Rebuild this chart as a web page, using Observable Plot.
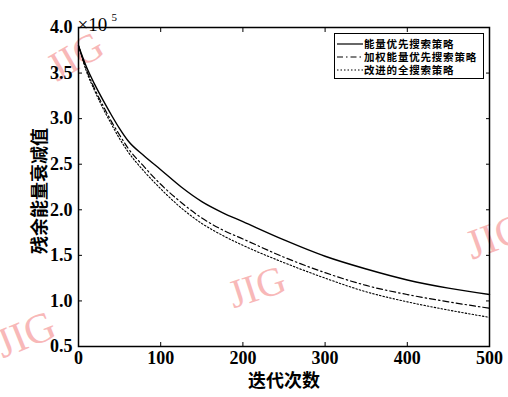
<!DOCTYPE html>
<html>
<head>
<meta charset="utf-8">
<script src="https://cdn.jsdelivr.net/npm/d3@7"></script>
<script src="https://cdn.jsdelivr.net/npm/@observablehq/plot@0.6"></script>
<style>
  html, body { margin: 0; padding: 0; background: #fff; }
  #wrap { position: relative; width: 508px; height: 397px; overflow: hidden; }
  #legend { position: absolute; left: 334px; top: 33px; width: 150px; height: 46px;
    border: 1px solid #000; background: #fff; box-sizing: border-box; padding-top: 3px;
    font-family: "Noto Sans CJK SC", sans-serif; font-weight: 700; font-size: 10.5px; letter-spacing: 0.8px; line-height: 13px; }
  .row { display: flex; align-items: center; height: 13px; margin-left: 2px; white-space: nowrap; }
  .row svg { flex: none; margin-right: 1px; }
</style>
</head>
<body>
<div id="wrap"></div>
<script>
// iterations
const xs = [0, 10, 20, 30, 40, 50, 60, 80, 100, 125, 150, 175, 200, 250, 300, 350, 400, 450, 500];
// residual energy (×10^5)
const energyFirst    = [3.80, 3.56, 3.37, 3.20, 3.04, 2.89, 2.76, 2.59, 2.44, 2.25, 2.09, 1.97, 1.87, 1.67, 1.49, 1.35, 1.23, 1.14, 1.07];
const weightedEnergy = [3.80, 3.53, 3.32, 3.14, 2.97, 2.82, 2.68, 2.47, 2.28, 2.08, 1.91, 1.78, 1.68, 1.48, 1.31, 1.17, 1.07, 0.99, 0.92];
const improvedFull   = [3.80, 3.51, 3.30, 3.11, 2.94, 2.78, 2.64, 2.42, 2.23, 2.02, 1.85, 1.72, 1.61, 1.42, 1.25, 1.10, 0.99, 0.90, 0.82];
const seriesNames = ["能量优先搜索策略", "加权能量优先搜索策略", "改进的全搜索策略"];
const xTicks = [0, 100, 200, 300, 400, 500];
const yTicks = [0.5, 1.0, 1.5, 2.0, 2.5, 3.0, 3.5, 4.0];
const xLabel = "迭代次数";
const yLabel = "残余能量衰减值";

const mk = arr => xs.map((x, i) => ({x, y: arr[i]}));
const d1 = mk(energyFirst), d2 = mk(weightedEnergy), d3s = mk(improvedFull);

const serif = "'Liberation Serif', 'Times New Roman', serif";
const cjk = "'Noto Sans CJK SC', sans-serif";
const pink = "#f8b8b8";

const chart = Plot.plot({
  width: 508,
  height: 397,
  marginLeft: 78,
  marginRight: 19,
  marginTop: 27,
  marginBottom: 51,
  style: {fontFamily: serif, background: "#fff", overflow: "visible"},
  x: {domain: [0, 500], axis: null},
  y: {domain: [0.5, 4.0], axis: null},
  marks: [
    // watermarks
    Plot.text(["JIG"], {frameAnchor: "top-left", dx: -36, dy: 30, textAnchor: "start", text: d => d, rotate: -30, fontSize: 40, fill: pink, fontFamily: serif}),
    Plot.text(["JIG"], {frameAnchor: "bottom-left", dx: 155, dy: -38, textAnchor: "start", text: d => d, rotate: -18, fontSize: 40, fill: pink, fontFamily: serif}),
    Plot.text(["JIG"], {frameAnchor: "bottom-left", dx: -76, dy: 12, textAnchor: "start", text: d => d, rotate: -22, fontSize: 42, fill: pink, fontFamily: serif}),
    Plot.text(["JIG"], {frameAnchor: "right", dx: -22, dy: 60, textAnchor: "start", text: d => d, rotate: -20, fontSize: 42, fill: pink, fontFamily: serif}),
    Plot.line(d1, {x: "x", y: "y", stroke: "#000", strokeWidth: 1.4, curve: "monotone-x"}),
    Plot.line(d2, {x: "x", y: "y", stroke: "#000", strokeWidth: 1.2, strokeDasharray: "6,3,1.5,3", curve: "monotone-x"}),
    Plot.line(d3s, {x: "x", y: "y", stroke: "#000", strokeWidth: 1.1, strokeDasharray: "1.5,2", curve: "monotone-x"}),
    Plot.frame({stroke: "#000", strokeWidth: 1.5}),
    // tick labels
    Plot.axisX({ticks: xTicks, tickSize: 0, tickPadding: 5, fontSize: 18, fontWeight: "bold", label: null, tickFormat: d => String(d)}),
    Plot.axisY({ticks: yTicks, tickSize: 0, tickPadding: 6, fontSize: 18, fontWeight: "bold", label: null, tickFormat: d3.format(".1f"), style: {letterSpacing: "2px"}}),
    // inward ticks
    Plot.axisX({ticks: xTicks, anchor: "bottom", tickSize: 4, dy: -4, tickFormat: () => "", label: null}),
    Plot.axisX({ticks: xTicks, anchor: "top", tickSize: 4, dy: 4, tickFormat: () => "", label: null}),
    Plot.axisY({ticks: yTicks, anchor: "left", tickSize: 4, dx: 4, tickFormat: () => "", label: null}),
    Plot.axisY({ticks: yTicks, anchor: "right", tickSize: 4, dx: -4, tickFormat: () => "", label: null}),
    // titles
    Plot.text([xLabel], {frameAnchor: "bottom", dy: 40, textAnchor: "middle", text: d => d, fontSize: 18, fontWeight: "bold", fontFamily: cjk, fill: "#000"}),
    Plot.text([yLabel], {frameAnchor: "left", dx: -38, dy: 4, rotate: -90, textAnchor: "middle", text: d => d, fontSize: 18, fontWeight: "bold", fontFamily: cjk, fill: "#000"}),
    Plot.text(["×10"], {frameAnchor: "top-left", dy: -10, dx: -1, textAnchor: "start", text: d => d, fontSize: 19, fontFamily: serif, fill: "#000"}),
    Plot.text(["5"], {frameAnchor: "top-left", dy: -14, dx: 33, textAnchor: "start", text: d => d, fontSize: 11, fontFamily: serif, fill: "#000"})
  ]
});

const wrap = document.getElementById("wrap");
wrap.appendChild(chart);

// legend
const dashes = [null, "6,3,1.5,3", "1.5,2"];
const legend = document.createElement("div");
legend.id = "legend";
seriesNames.forEach((name, i) => {
  const row = document.createElement("div");
  row.className = "row";
  row.innerHTML = `<svg width="26" height="6"><line x1="0" y1="3" x2="26" y2="3" stroke="#000" stroke-width="1.2" ${dashes[i] ? `stroke-dasharray="${dashes[i]}"` : ""}/></svg><span>${name}</span>`;
  legend.appendChild(row);
});
wrap.appendChild(legend);
</script>
</body>
</html>
